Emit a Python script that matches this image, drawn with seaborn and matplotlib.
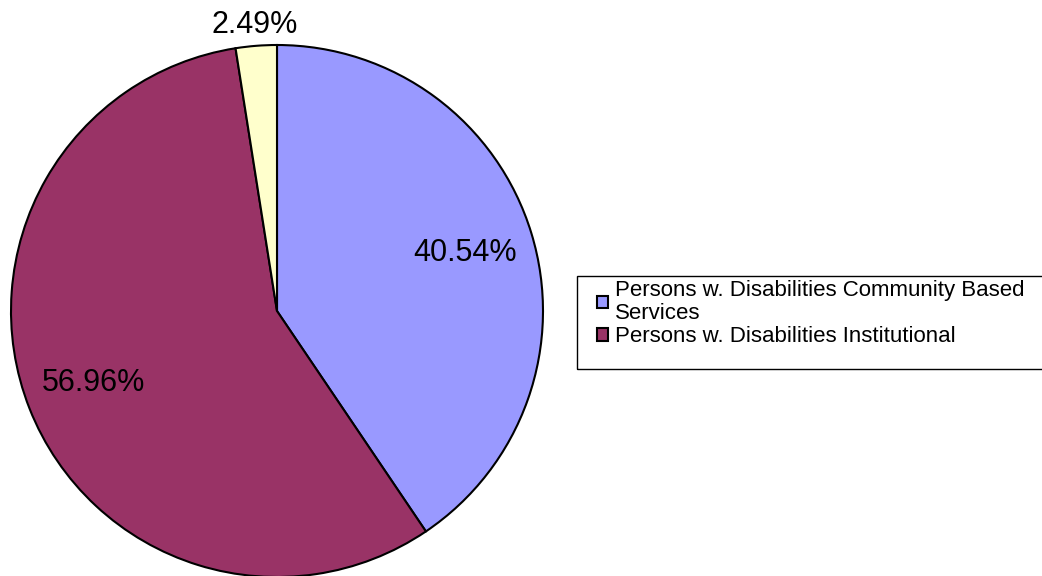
import matplotlib
matplotlib.use("Agg")
import matplotlib.pyplot as plt
import matplotlib.patches as mpatches
import seaborn as sns
import numpy as np

# Data
labels = ["Persons w. Disabilities Community Based\nServices",
          "Persons w. Disabilities Institutional",
          "Other"]
shares = [40.54, 56.96, 2.49]
colors = ["#9999FF", "#993366", "#FFFFCC"]

sns.set_style("white")
plt.rcParams['font.family'] = ['Liberation Sans', 'DejaVu Sans']

W, H = 1042, 576
fig = plt.figure(figsize=(W / 100, H / 100), dpi=100)

# pie axes: centre ~(277, 311) px, radius ~266 px
cx, cy, r = 277, 311, 266
ax = fig.add_axes([(cx - r) / W, (H - cy - r) / H, 2 * r / W, 2 * r / H])
wedges, texts, autotexts = ax.pie(
    shares, colors=colors, startangle=90, counterclock=False,
    autopct=lambda p: f"{p:.2f}%", pctdistance=0.74,
    wedgeprops=dict(edgecolor="black", linewidth=1.5),
    textprops=dict(fontsize=22, color="black"))
ax.set_aspect("equal")
ax.set_xlim(-1, 1)
ax.set_ylim(-1, 1)

# values as printed in the source
for t, v in zip(autotexts, shares):
    t.set_text(f"{v:.2f}%")

# small slice label sits outside the pie
w = wedges[2]
mid = np.deg2rad((w.theta1 + w.theta2) / 2)
autotexts[2].set_position((1.08 * np.cos(mid), 1.08 * np.sin(mid)))

# legend box (right side clipped by the figure edge)
box = mpatches.Rectangle((577 / W, 1 - 369 / H), 480 / W, 93 / H,
                         transform=fig.transFigure, fill=False,
                         edgecolor="black", linewidth=1.0, clip_on=False)
fig.add_artist(box)
handles = [mpatches.Patch(facecolor=c, edgecolor="black", linewidth=1.5)
           for c in colors[:2]]
leg = fig.legend(handles, labels[:2], loc="upper left",
                 bbox_to_anchor=(597 / W, 1 - 280 / H), frameon=False,
                 fontsize=16, handlelength=0.5, handleheight=0.5,
                 handletextpad=0.3, labelspacing=0.12, borderpad=0.0,
                 borderaxespad=0.0, labelcolor="black")
for t in leg.get_texts():
    t.set_linespacing(1.1)

fig.savefig("out.png", dpi=100)
